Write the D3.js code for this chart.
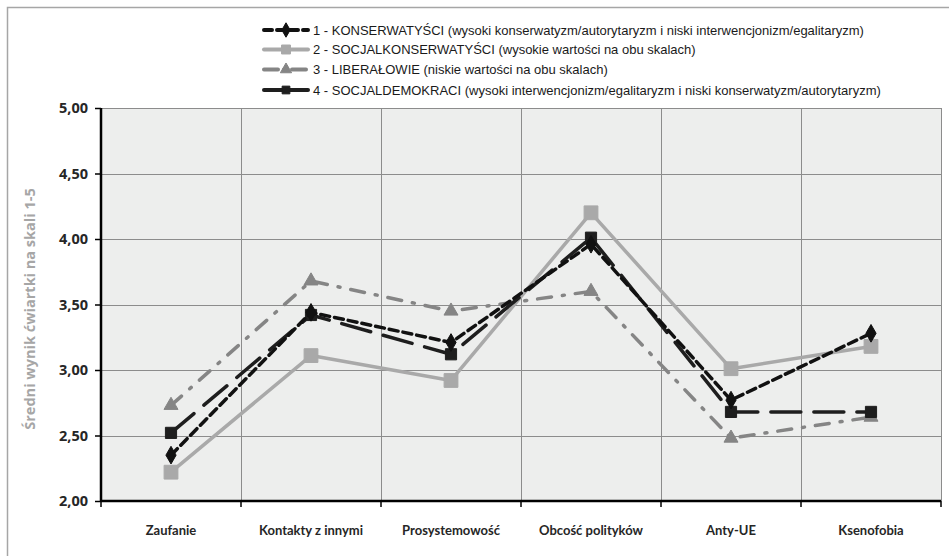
<!DOCTYPE html>
<html><head><meta charset="utf-8">
<script src="https://cdn.jsdelivr.net/npm/d3@7"></script>
<style>
body{margin:0;background:#fff;}
svg{display:block;}
</style></head>
<body>
<script>
const categories = ["Zaufanie","Kontakty z innymi","Prosystemowość","Obcość polityków","Anty-UE","Ksenofobia"];
const seriesNames = [
  "1 - KONSERWATYŚCI (wysoki konserwatyzm/autorytaryzm i niski interwencjonizm/egalitaryzm)",
  "2 - SOCJALKONSERWATYŚCI (wysokie wartości na obu skalach)",
  "3 - LIBERAŁOWIE (niskie wartości na obu skalach)",
  "4 - SOCJALDEMOKRACI (wysoki interwencjonizm/egalitaryzm i niski konserwatyzm/autorytaryzm)"
];
const konserwatysci = [2.35, 3.44, 3.21, 3.96, 2.77, 3.28];
const socjalkonserwatysci = [2.22, 3.11, 2.92, 4.20, 3.01, 3.18];
const liberalowie = [2.73, 3.68, 3.45, 3.60, 2.48, 2.64];
const socjaldemokraci = [2.52, 3.42, 3.12, 4.01, 2.68, 2.68];
const yTicks = [2.0, 2.5, 3.0, 3.5, 4.0, 4.5, 5.0];
const yTitle = "Średni wynik ćwiartki na skali 1-5";

const W = 949, H = 556;
const svg = d3.select("body").append("svg").attr("width", W).attr("height", H);

// outer border
svg.append("path").attr("d","M7.5,560 L7.5,7.5 L960,7.5").attr("fill","none").attr("stroke","#a6a6a6").attr("stroke-width",1.5);

const x = d3.scaleBand().domain(categories).range([101, 941]);
const y = d3.scaleLinear().domain([2,5]).range([501,108]);

// plot background
svg.append("rect").attr("x",101).attr("y",108).attr("width",840).attr("height",393).attr("fill","#edeeed");

// grid horizontal
svg.append("g").selectAll("line").data(yTicks.slice(1)).join("line")
  .attr("x1",101).attr("x2",941).attr("y1",d=>Math.round(y(d))+0.5).attr("y2",d=>Math.round(y(d))+0.5)
  .attr("stroke","#8c8c8c").attr("stroke-width",1);
// grid vertical
const bounds = categories.slice(1).map(c=>x(c)).concat([941]);
svg.append("g").selectAll("line").data(bounds).join("line")
  .attr("x1",d=>Math.round(d)+0.5).attr("x2",d=>Math.round(d)+0.5).attr("y1",108).attr("y2",501)
  .attr("stroke","#8c8c8c").attr("stroke-width",1);

// y axis
const yAxis = d3.axisLeft(y).tickValues(yTicks).tickSize(6).tickPadding(7)
  .tickFormat(d=>d3.format(".2f")(d).replace(".",","));
const gy = svg.append("g").attr("transform","translate(101,0)").call(yAxis);
gy.select(".domain").attr("stroke","#000").attr("stroke-width",2.5).attr("d","M0,108V501");
gy.selectAll(".tick line").attr("stroke","#000").attr("stroke-width",1.5);
gy.selectAll("text").attr("font-family","'Open Sans', sans-serif").attr("font-weight","bold")
  .attr("font-size",14.5).attr("fill","#262626");

// x axis
const xAxis = d3.axisBottom(x).tickSize(0).tickPadding(25);
const gx = svg.append("g").attr("transform","translate(0,501)").call(xAxis);
gx.select(".domain").attr("stroke","#000").attr("stroke-width",2.5).attr("d","M101,0H941");
gx.selectAll("text").attr("font-family","Lato, 'Open Sans', sans-serif").attr("font-weight","bold")
  .attr("font-size",13).attr("fill","#262626");
gx.append("g").selectAll("line").data([101].concat(bounds)).join("line")
  .attr("x1",d=>d).attr("x2",d=>d).attr("y1",0).attr("y2",6).attr("stroke","#000").attr("stroke-width",1.5);

// y title
svg.append("text").attr("transform","translate(35,309) rotate(-90)").attr("text-anchor","middle")
  .attr("font-family","'Open Sans', sans-serif").attr("font-weight","bold").attr("font-size",14.5)
  .attr("fill","#a6a6a6").text(yTitle);

const sym = {
  diamond: d3.symbol().type(d3.symbolDiamond).size(90),
  square: d3.symbol().type(d3.symbolSquare).size(190),
  triangle: d3.symbol().type(d3.symbolTriangle).size(85),
  square4: d3.symbol().type(d3.symbolSquare).size(125)
};
const series = [
  {name: seriesNames[0], values: konserwatysci, color:"#111111", dash:"9,5", width:3.5, marker: sym.diamond, mcolor:"#111"},
  {name: seriesNames[1], values: socjalkonserwatysci, color:"#a9a9a9", dash:null, width:3.5, marker: sym.square, mcolor:"#a9a9a9"},
  {name: seriesNames[2], values: liberalowie, color:"#858585", dash:"14,11,2,11", width:3.5, marker: sym.triangle, mcolor:"#858585"},
  {name: seriesNames[3], values: socjaldemokraci, color:"#1e1e1e", dash:"30,13", width:3.5, marker: sym.square4, mcolor:"#1e1e1e"}
];
const drawOrder = [1,2,3,0];
const line = d3.line().x((d,i)=>x(categories[i])+x.bandwidth()/2).y(d=>y(d));
drawOrder.forEach(k=>{
  const s = series[k];
  const g = svg.append("g");
  g.append("path").attr("d", line(s.values)).attr("fill","none").attr("stroke",s.color)
    .attr("stroke-width",s.width).attr("stroke-dasharray",s.dash).attr("stroke-linecap","round").attr("stroke-linejoin","round");
  g.selectAll("path.m").data(s.values).join("path").attr("class","m")
    .attr("d", s.marker()).attr("transform",(d,i)=>`translate(${x(categories[i])+x.bandwidth()/2},${y(d)})`)
    .attr("fill",s.mcolor).attr("stroke",s.mcolor).attr("stroke-width",1).attr("stroke-linejoin","round");
});

// legend
const legRows = [30, 49.5, 69.5, 90];
const lg = svg.append("g");
const legSym = [d3.symbol().type(d3.symbolDiamond).size(60), d3.symbol().type(d3.symbolSquare).size(80),
  d3.symbol().type(d3.symbolTriangle).size(55), d3.symbol().type(d3.symbolSquare).size(60)];
series.forEach((s,i)=>{
  const yy = legRows[i];
  lg.append("line").attr("x1",264).attr("x2",308).attr("y1",yy).attr("y2",yy).attr("stroke",s.color)
    .attr("stroke-width",4).attr("stroke-dasharray", i===0?"8,5":(i===2?"14,6,2,6":null)).attr("stroke-linecap","round");
  lg.append("path").attr("d", legSym[i]()).attr("transform",`translate(286,${yy})`).attr("fill",s.mcolor).attr("stroke",s.mcolor);
  lg.append("text").attr("x",313).attr("y",yy+4.5).attr("font-family","'Liberation Sans', Arial, sans-serif")
    .attr("font-size",13).attr("fill","#1a1a1a").text(s.name);
});
</script>
</body></html>
